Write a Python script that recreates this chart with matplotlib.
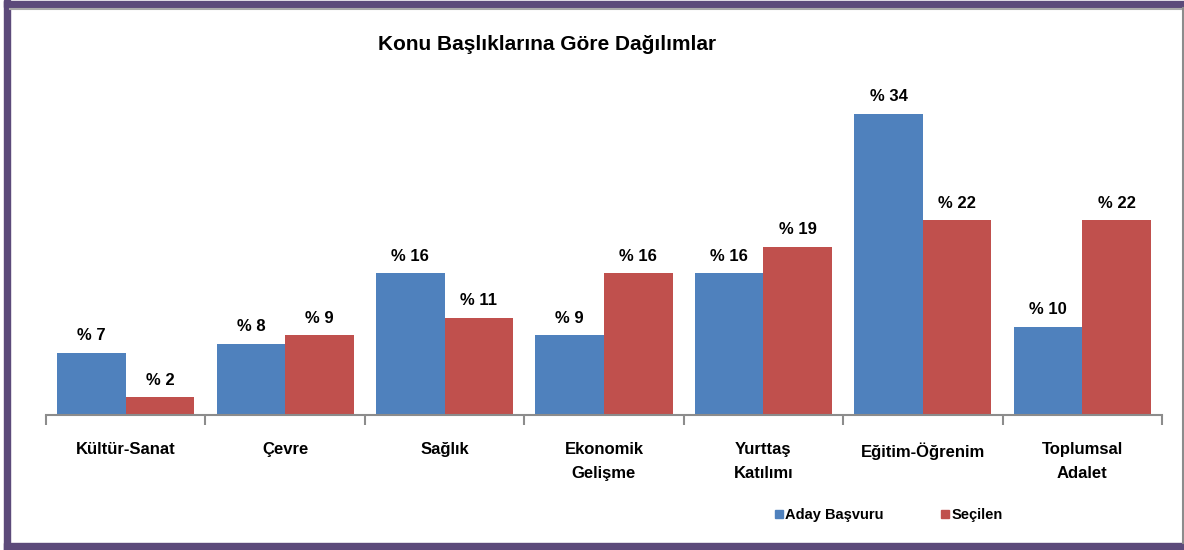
import matplotlib.pyplot as plt
import numpy as np
from matplotlib.patches import Rectangle
from matplotlib.lines import Line2D

categories = ["Kültür-Sanat", "Çevre", "Sağlık", "Ekonomik\nGelişme",
              "Yurttaş\nKatılımı", "Eğitim-Öğrenim", "Toplumsal\nAdalet"]
aday = [7, 8, 16, 9, 16, 34, 10]
secilen = [2, 9, 11, 16, 19, 22, 22]
series_names = ["Aday Başvuru", "Seçilen"]

plt.rcParams['font.family'] = ['Liberation Sans', 'DejaVu Sans']
plt.rcParams['font.weight'] = 'bold'

blue = "#4F81BD"
red = "#C0504D"

fig = plt.figure(figsize=(11.84, 5.5), dpi=100)
ax = fig.add_axes([46 / 1184, 135 / 550, 1116 / 1184, 354 / 550])

x = np.arange(len(categories))
w = 0.43
b1 = ax.bar(x - w / 2, aday, width=w, color=blue, label=series_names[0])
b2 = ax.bar(x + w / 2, secilen, width=w, color=red, label=series_names[1])

for bars, vals in ((b1, aday), (b2, secilen)):
    for r, v in zip(bars, vals):
        ax.annotate(f"% {v}", (r.get_x() + r.get_width() / 2, v),
                    xytext=(0, 7), textcoords="offset points",
                    ha="center", va="bottom", fontsize=12, fontweight="bold")

ax.set_xlim(-0.5, len(categories) - 0.5)
ax.set_ylim(0, 40)
for s in ("top", "right", "left"):
    ax.spines[s].set_visible(False)
ax.spines["bottom"].set_color("#8C8C8C")
ax.spines["bottom"].set_linewidth(1.5)
ax.set_yticks([])
ax.set_xticks(np.arange(len(categories) + 1) - 0.5)
ax.set_xticklabels([])
ax.tick_params(axis="x", length=7, width=1.5, color="#8C8C8C")
for i, c in enumerate(categories):
    ax.text(i, -3.1, c, ha="center", va="top", fontsize=12, fontweight="bold",
            linespacing=1.75)

fig.text(547 / 1184, 1 - 45 / 550, "Konu Başlıklarına Göre Dağılımlar",
         ha="center", va="center", fontsize=15, fontweight="bold")

handles = [Line2D([], [], marker="s", ls="", color=blue, markersize=6),
           Line2D([], [], marker="s", ls="", color=red, markersize=6)]
fig.legend(handles, series_names, loc="center", bbox_to_anchor=(888 / 1184, 1 - 515 / 550),
           ncol=2, frameon=False, fontsize=10.5, handletextpad=0.05, columnspacing=3.8,
           handlelength=0.8)

# purple frame
purple = "#5C4A7A"
fig.patches.append(Rectangle((4 / 1184, 0), 6 / 1184, 1, transform=fig.transFigure, color=purple))
fig.patches.append(Rectangle((4 / 1184, 1 - 7 / 550), 1180 / 1184, 6 / 550, transform=fig.transFigure, color=purple))
fig.patches.append(Rectangle((4 / 1184, 0), 1180 / 1184, 7 / 550, transform=fig.transFigure, color=purple))
fig.lines.append(Line2D([10 / 1184, 1], [1 - 9 / 550] * 2, transform=fig.transFigure, color="#AAAAAA", lw=1.5))
fig.lines.append(Line2D([1182.5 / 1184] * 2, [7 / 550, 1 - 8 / 550], transform=fig.transFigure, color="#8C8C8C", lw=1.5))

fig.savefig("out.png", dpi=100)
